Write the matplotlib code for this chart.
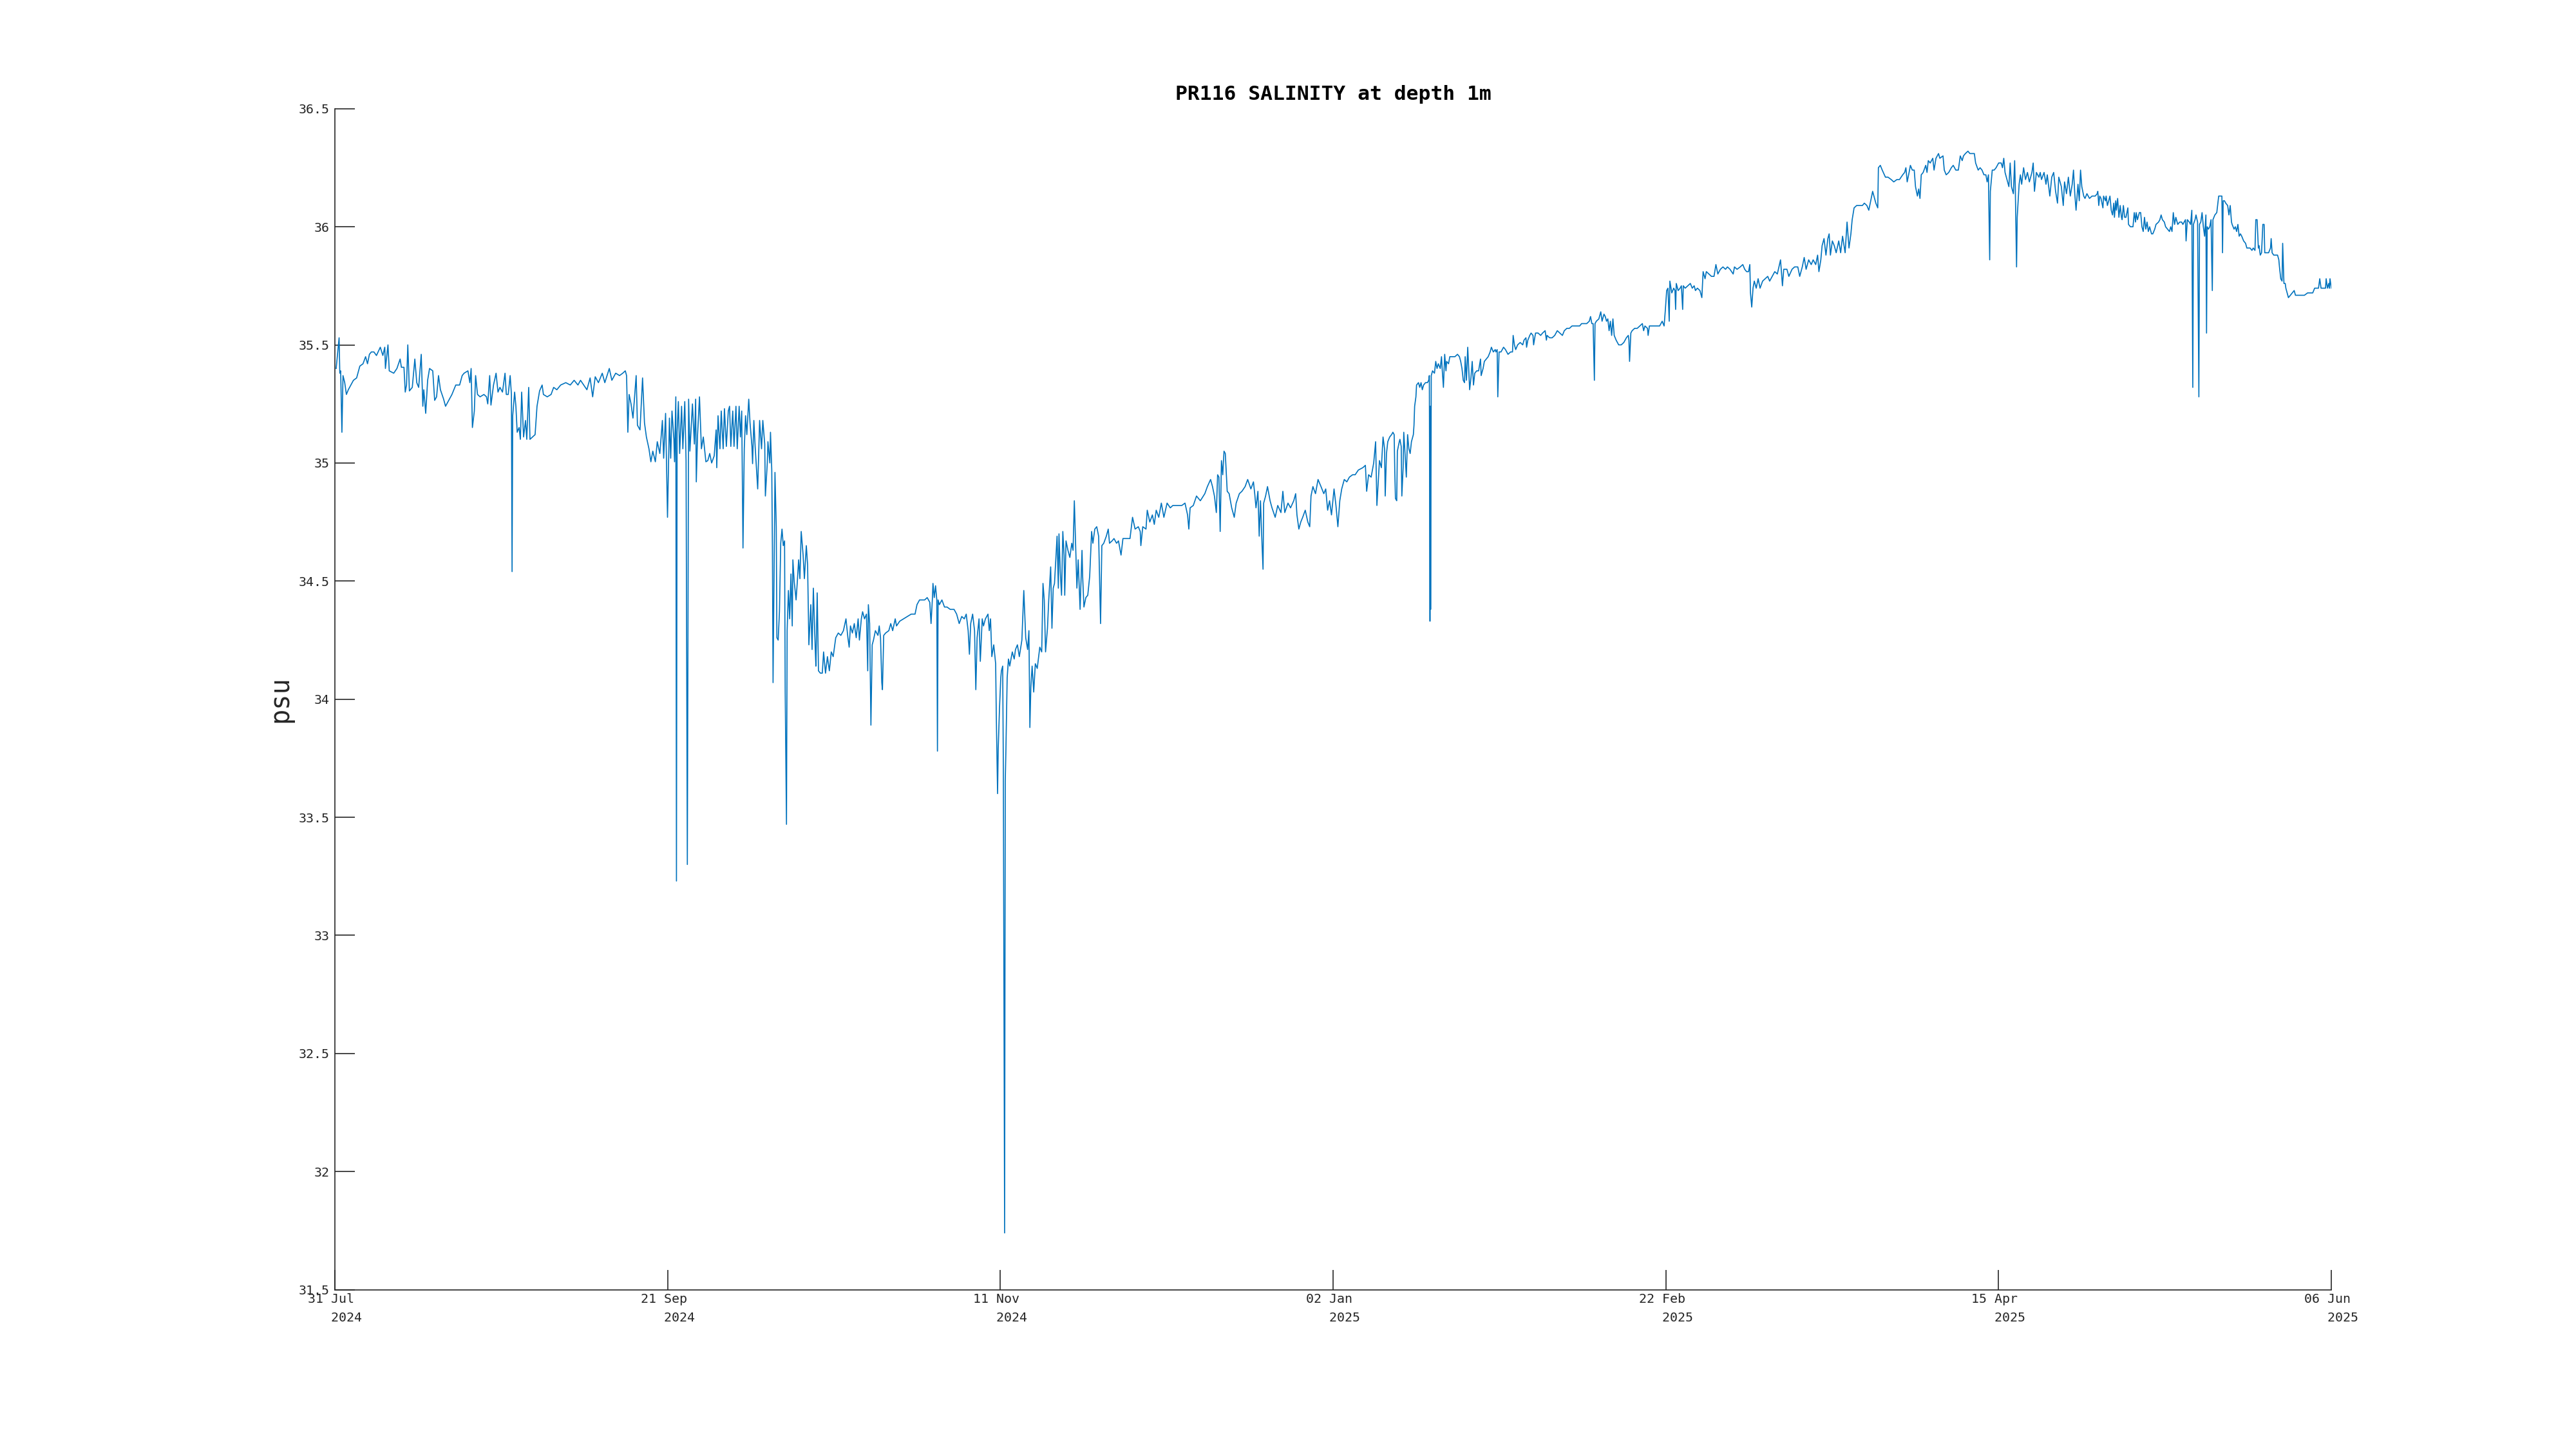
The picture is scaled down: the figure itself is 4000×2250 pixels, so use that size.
"""
PR116 salinity at 1 m depth, Jul 2024 - Jun 2025, MATLAB-style single line plot.

Values were read off the reference plot. x is "day of record" (31 Jul = 0),
y is salinity in psu. Saves out.png at 4000x2250.
"""
import numpy as np
import matplotlib

matplotlib.use("Agg")
import matplotlib.pyplot as plt

TITLE = "PR116 SALINITY at depth 1m"
Y_LABEL = "psu"
X_TICK_LABELS = ["31 Jul\n   2024", "21 Sep\n   2024", "11 Nov\n   2024",
                 "02 Jan\n   2025", "22 Feb\n   2025", "15 Apr\n   2025",
                 "06 Jun\n   2025"]
Y_TICKS = [31.5, 32, 32.5, 33, 33.5, 34, 34.5, 35, 35.5, 36, 36.5]
X_START, X_END = -0.2, 311.9  # day-of-record at the first / last date tick

# (day, psu) readings, one list per stretch of the record
AUG_SEP = [
    (0.0, 35.40), (0.46, 35.53), (0.57, 35.38), (0.7, 35.39), (0.9, 35.13), (1.07, 35.37),
    (1.34, 35.34), (1.6, 35.29), (1.9, 35.31), (2.3, 35.33), (2.7, 35.35), (3.2, 35.36),
    (3.7, 35.41), (4.2, 35.42), (4.6, 35.45), (4.9, 35.42), (5.2, 35.46), (5.5, 35.47),
    (5.9, 35.47), (6.3, 35.455), (6.9, 35.49), (7.3, 35.455), (7.6, 35.49), (7.7, 35.40),
    (8.1, 35.50), (8.3, 35.39), (9.0, 35.38), (9.5, 35.40), (10.0, 35.44), (10.2, 35.405),
    (10.6, 35.405), (10.8, 35.30), (11.0, 35.33), (11.2, 35.50), (11.45, 35.305), (11.9, 35.32),
    (12.3, 35.44), (12.6, 35.34), (12.9, 35.32), (13.3, 35.46), (13.55, 35.24), (13.7, 35.31),
    (14.0, 35.21), (14.3, 35.35), (14.6, 35.40), (15.1, 35.39), (15.4, 35.265), (15.7, 35.28),
    (16.0, 35.37), (16.3, 35.31), (16.8, 35.27), (17.1, 35.24), (17.6, 35.265), (18.1, 35.29),
    (18.7, 35.33), (19.3, 35.33), (19.7, 35.37), (20.0, 35.38), (20.6, 35.39), (20.9, 35.34),
    (21.1, 35.40), (21.3, 35.15), (21.6, 35.22), (21.8, 35.37), (22.1, 35.29), (22.5, 35.28),
    (23.1, 35.29), (23.5, 35.28), (23.7, 35.25), (24.0, 35.37), (24.2, 35.245), (24.6, 35.33),
    (25.0, 35.38), (25.3, 35.30), (25.6, 35.32), (26.0, 35.30), (26.4, 35.38), (26.6, 35.29),
    (26.9, 35.29), (27.2, 35.37), (27.4, 35.29), (27.5, 34.54), (27.6, 35.20), (27.9, 35.30),
    (28.1, 35.24), (28.3, 35.13), (28.6, 35.15), (28.8, 35.10), (29.0, 35.30), (29.3, 35.11),
    (29.6, 35.18), (29.8, 35.10), (30.1, 35.32), (30.3, 35.10), (30.7, 35.11), (31.1, 35.12),
    (31.4, 35.24), (31.8, 35.305), (32.2, 35.33), (32.4, 35.29), (33.0, 35.28), (33.6, 35.29),
    (34.0, 35.32), (34.5, 35.31), (35.1, 35.33), (35.9, 35.34), (36.6, 35.33), (37.2, 35.35),
    (37.8, 35.33), (38.2, 35.35), (38.7, 35.33), (39.2, 35.31), (39.7, 35.36), (40.1, 35.28),
    (40.5, 35.365), (41.0, 35.34), (41.6, 35.38), (42.0, 35.34), (42.7, 35.40), (43.1, 35.35),
    (43.7, 35.38), (44.3, 35.37), (44.8, 35.38), (45.2, 35.39), (45.4, 35.37), (45.6, 35.13),
    (45.8, 35.29), (46.1, 35.25), (46.4, 35.19), (46.6, 35.26), (46.9, 35.37), (47.1, 35.16),
    (47.5, 35.14), (47.9, 35.36), (48.2, 35.17), (48.5, 35.11), (48.9, 35.06), (49.2, 35.005),
    (49.5, 35.05), (49.9, 35.005), (50.2, 35.09), (50.6, 35.04), (51.0, 35.18), (51.2, 35.02),
    (51.5, 35.21), (51.8, 34.77), (52.1, 35.19), (52.3, 35.02), (52.5, 35.22), (52.8, 35.10),
    (52.9, 35.005), (53.1, 35.28), (53.2, 33.23), (53.3, 35.13), (53.5, 35.26), (53.7, 35.04),
    (54.0, 35.24), (54.2, 35.06), (54.5, 35.26), (54.7, 35.01), (54.9, 33.30), (55.1, 35.27),
    (55.3, 35.05), (55.7, 35.25), (56.0, 35.08), (56.2, 35.27), (56.3, 34.92), (56.5, 35.12),
    (56.8, 35.28), (57.1, 35.06), (57.4, 35.11), (57.8, 35.005),
]

SEP_NOV = [
    (58.1, 35.01), (58.4, 35.04), (58.7, 35.00), (59.1, 35.03), (59.4, 35.14), (59.5, 34.98),
    (59.7, 35.20), (60.0, 35.06), (60.2, 35.22), (60.5, 35.06), (60.7, 35.23), (61.0, 35.07),
    (61.3, 35.22), (61.5, 35.24), (61.7, 35.07), (62.0, 35.22), (62.2, 35.07), (62.5, 35.24),
    (62.7, 35.06), (63.0, 35.24), (63.2, 35.11), (63.4, 35.22), (63.6, 34.64), (63.8, 35.06),
    (64.0, 35.20), (64.2, 35.12), (64.5, 35.27), (64.7, 35.17), (65.0, 35.07), (65.1, 34.997),
    (65.3, 35.18), (65.5, 35.07), (65.7, 34.98), (65.9, 34.89), (66.2, 35.18), (66.5, 35.06),
    (66.7, 35.18), (67.0, 35.08), (67.1, 34.86), (67.4, 35.00), (67.5, 35.09), (67.8, 35.00),
    (67.9, 35.13), (68.1, 34.97), (68.2, 34.64), (68.3, 34.07), (68.4, 34.37), (68.6, 34.96),
    (68.8, 34.73), (68.9, 34.26), (69.1, 34.25), (69.3, 34.37), (69.5, 34.66), (69.7, 34.72),
    (69.9, 34.65), (70.1, 34.67), (70.2, 34.03), (70.4, 33.47), (70.5, 34.29), (70.7, 34.46),
    (70.9, 34.34), (71.1, 34.53), (71.3, 34.31), (71.4, 34.59), (71.6, 34.50), (71.9, 34.42),
    (72.1, 34.50), (72.3, 34.59), (72.5, 34.51), (72.7, 34.71), (73.0, 34.61), (73.2, 34.51),
    (73.5, 34.65), (73.7, 34.57), (73.9, 34.23), (74.2, 34.40), (74.4, 34.21), (74.6, 34.47),
    (74.9, 34.21), (75.0, 34.14), (75.2, 34.45), (75.4, 34.12), (75.7, 34.11), (76.0, 34.11),
    (76.2, 34.20), (76.5, 34.11), (76.8, 34.18), (77.1, 34.12), (77.4, 34.20), (77.7, 34.18),
    (78.1, 34.26), (78.5, 34.28), (78.9, 34.27), (79.3, 34.29), (79.7, 34.34), (80.0, 34.26),
    (80.2, 34.22), (80.4, 34.31), (80.7, 34.28), (81.0, 34.32), (81.3, 34.26), (81.6, 34.34),
    (81.8, 34.25), (82.1, 34.34), (82.3, 34.37), (82.6, 34.34), (82.9, 34.36), (83.1, 34.12),
    (83.2, 34.40), (83.4, 34.32), (83.6, 33.89), (83.8, 34.23), (84.0, 34.25), (84.3, 34.29),
    (84.7, 34.27), (84.9, 34.31), (85.1, 34.26), (85.3, 34.07), (85.4, 34.04), (85.6, 34.27),
    (85.9, 34.28), (86.4, 34.29), (86.7, 34.32), (87.0, 34.29), (87.4, 34.34), (87.6, 34.31),
    (88.1, 34.33), (88.7, 34.34), (89.3, 34.35), (89.9, 34.36), (90.5, 34.36), (90.8, 34.40),
    (91.2, 34.42), (91.6, 34.42), (92.0, 34.42), (92.4, 34.43), (92.8, 34.41), (93.0, 34.32),
    (93.2, 34.42), (93.3, 34.49), (93.5, 34.43), (93.7, 34.48), (93.9, 34.42), (94.0, 33.78),
    (94.1, 34.42), (94.3, 34.40), (94.7, 34.42), (95.1, 34.39), (95.5, 34.39), (96.0, 34.38),
    (96.6, 34.38), (97.0, 34.36), (97.4, 34.32), (97.8, 34.35), (98.2, 34.34), (98.5, 34.36),
    (98.8, 34.29), (99.0, 34.19), (99.2, 34.32), (99.5, 34.36), (99.8, 34.29), (100.0, 34.04),
    (100.2, 34.26), (100.5, 34.34), (100.7, 34.16), (101.0, 34.34), (101.2, 34.31), (101.5, 34.34),
    (101.9, 34.36), (102.1, 34.29), (102.3, 34.34), (102.5, 34.18), (102.8, 34.23), (103.1, 34.15),
    (103.2, 33.93), (103.4, 33.60), (103.5, 33.79), (103.7, 33.96), (103.9, 34.09), (104.0, 34.12),
    (104.2, 34.14), (104.3, 33.71), (104.5, 31.74), (104.6, 33.65), (104.7, 33.78), (104.9, 34.09),
    (105.1, 34.17), (105.3, 34.14), (105.7, 34.20), (106.0, 34.17), (106.2, 34.21), (106.5, 34.23),
    (106.8, 34.18), (107.2, 34.25), (107.5, 34.46), (107.8, 34.26), (108.1, 34.21), (108.3, 34.29),
    (108.45, 33.88),
]

NOV_JAN = [
    (108.6, 34.05), (108.8, 34.14), (109.05, 34.03), (109.3, 34.15), (109.6, 34.13), (110.0, 34.22),
    (110.3, 34.20), (110.5, 34.49), (110.7, 34.42), (110.9, 34.20), (111.2, 34.30), (111.4, 34.42),
    (111.7, 34.56), (111.9, 34.30), (112.1, 34.47), (112.3, 34.49), (112.5, 34.59), (112.7, 34.69),
    (112.9, 34.47), (113.0, 34.70), (113.2, 34.54), (113.4, 34.44), (113.6, 34.71), (113.8, 34.61),
    (113.9, 34.44), (114.1, 34.67), (114.4, 34.63), (114.7, 34.60), (115.0, 34.66), (115.2, 34.63),
    (115.4, 34.84), (115.6, 34.66), (115.8, 34.47), (116.0, 34.59), (116.3, 34.38), (116.6, 34.63),
    (116.7, 34.52), (116.9, 34.39), (117.2, 34.43), (117.5, 34.44), (117.8, 34.52), (118.1, 34.71),
    (118.3, 34.66), (118.6, 34.72), (118.9, 34.73), (119.2, 34.69), (119.5, 34.32), (119.7, 34.65),
    (120.0, 34.66), (120.4, 34.69), (120.7, 34.72), (120.9, 34.66), (121.3, 34.67), (121.6, 34.68),
    (122.0, 34.66), (122.3, 34.67), (122.7, 34.61), (123.0, 34.68), (123.4, 34.68), (124.1, 34.68),
    (124.5, 34.77), (124.9, 34.72), (125.4, 34.73), (125.7, 34.71), (125.8, 34.65), (126.1, 34.73),
    (126.6, 34.72), (126.8, 34.80), (127.2, 34.75), (127.6, 34.78), (127.9, 34.74), (128.2, 34.80),
    (128.6, 34.77), (129.0, 34.83), (129.4, 34.77), (129.9, 34.83), (130.4, 34.81), (130.8, 34.82),
    (131.5, 34.82), (132.2, 34.82), (132.7, 34.83), (133.1, 34.78), (133.3, 34.72), (133.5, 34.81),
    (134.0, 34.82), (134.5, 34.86), (135.1, 34.84), (135.8, 34.87), (136.2, 34.90), (136.7, 34.93),
    (137.0, 34.90), (137.3, 34.86), (137.6, 34.79), (137.8, 34.95), (138.0, 34.94), (138.2, 34.71),
    (138.4, 35.01), (138.6, 34.95), (138.8, 35.05), (139.0, 35.04), (139.3, 34.88), (139.6, 34.87),
    (140.0, 34.81), (140.4, 34.77), (140.7, 34.83), (141.2, 34.87), (141.6, 34.88), (142.1, 34.90),
    (142.5, 34.93), (143.0, 34.89), (143.4, 34.92), (143.6, 34.87), (143.8, 34.81), (144.1, 34.88),
    (144.3, 34.69), (144.5, 34.84), (144.75, 34.65), (144.9, 34.55), (145.0, 34.83), (145.3, 34.86),
    (145.6, 34.90), (146.0, 34.84), (146.3, 34.81), (146.8, 34.77), (147.2, 34.82), (147.7, 34.79),
    (148.0, 34.88), (148.3, 34.79), (148.8, 34.83), (149.2, 34.81), (149.7, 34.84), (150.0, 34.87),
    (150.2, 34.78), (150.5, 34.72), (150.8, 34.75), (151.1, 34.77), (151.5, 34.80), (151.9, 34.75),
    (152.2, 34.73), (152.4, 34.86), (152.7, 34.90), (153.1, 34.87), (153.5, 34.93), (153.96, 34.90),
    (154.4, 34.87), (154.7, 34.89), (155.0, 34.80), (155.3, 34.84), (155.6, 34.78), (156.0, 34.89),
    (156.3, 34.82), (156.6, 34.73), (156.9, 34.84), (157.2, 34.89), (157.6, 34.93), (158.0, 34.92),
    (158.4, 34.94), (158.9, 34.95), (159.3, 34.95), (159.8, 34.97), (160.5, 34.98), (160.9, 34.99),
    (161.1, 34.88), (161.4, 34.95), (161.8, 34.94), (162.2, 35.00), (162.5, 35.09), (162.7, 34.82),
    (163.1, 35.01), (163.4, 34.98),
]

JAN_FEB = [
    (163.66, 35.11), (163.9, 35.06), (164.0, 34.86), (164.2, 35.04), (164.4, 35.09), (164.7, 35.11),
    (165.0, 35.12), (165.2, 35.13), (165.4, 35.12), (165.5, 34.96), (165.6, 34.85), (165.8, 34.84),
    (165.9, 35.05), (166.2, 35.09), (166.3, 35.10), (166.5, 35.07), (166.6, 34.86), (166.8, 34.98),
    (166.9, 35.13), (167.1, 35.04), (167.3, 34.94), (167.5, 35.12), (167.7, 35.06), (167.9, 35.04),
    (168.1, 35.09), (168.4, 35.12), (168.5, 35.16), (168.6, 35.24), (168.8, 35.28), (168.9, 35.33),
    (169.2, 35.34), (169.4, 35.32), (169.6, 35.34), (169.8, 35.31), (170.0, 35.33), (170.3, 35.34),
    (170.6, 35.34), (170.8, 35.35), (170.9, 35.37), (171.0, 34.33), (171.05, 35.24), (171.1, 34.38),
    (171.2, 35.37), (171.4, 35.39), (171.7, 35.38), (171.9, 35.43), (172.1, 35.40), (172.3, 35.42),
    (172.6, 35.40), (172.8, 35.45), (172.9, 35.40), (173.1, 35.32), (173.3, 35.46), (173.5, 35.39),
    (173.6, 35.43), (173.9, 35.42), (174.1, 35.45), (174.5, 35.45), (174.9, 35.45), (175.3, 35.46),
    (175.6, 35.45), (175.8, 35.43), (176.0, 35.40), (176.2, 35.35), (176.4, 35.34), (176.5, 35.45),
    (176.7, 35.35), (176.9, 35.49), (177.0, 35.43), (177.2, 35.31), (177.4, 35.36), (177.6, 35.43),
    (177.8, 35.33), (178.0, 35.38), (178.3, 35.39), (178.6, 35.39), (178.9, 35.44), (179.0, 35.37),
    (179.3, 35.40), (179.5, 35.43), (179.8, 35.44), (180.1, 35.45), (180.4, 35.47), (180.6, 35.49),
    (180.9, 35.47), (181.2, 35.48), (181.3, 35.47), (181.5, 35.48), (181.6, 35.28), (181.8, 35.47),
    (182.1, 35.47), (182.5, 35.49), (182.8, 35.48), (183.2, 35.46), (183.6, 35.47), (183.9, 35.47),
    (184.0, 35.54), (184.2, 35.50), (184.4, 35.48), (184.7, 35.50), (185.1, 35.51), (185.5, 35.50),
    (185.7, 35.52), (186.0, 35.53), (186.1, 35.49), (186.3, 35.52), (186.6, 35.54), (186.8, 35.55),
    (187.1, 35.54), (187.2, 35.50), (187.5, 35.55), (187.9, 35.55), (188.3, 35.54), (188.6, 35.55),
    (189.0, 35.56), (189.2, 35.52), (189.3, 35.54), (189.7, 35.53), (190.1, 35.53), (190.5, 35.54),
    (190.9, 35.56), (191.3, 35.55), (191.7, 35.54), (192.0, 35.56), (192.4, 35.57), (192.8, 35.57),
    (193.2, 35.58), (193.6, 35.58), (194.0, 35.58), (194.4, 35.58), (194.7, 35.59), (195.1, 35.59),
    (195.5, 35.59), (195.9, 35.60), (196.1, 35.62), (196.3, 35.59), (196.5, 35.59), (196.7, 35.35),
    (196.8, 35.59), (197.0, 35.60), (197.4, 35.61), (197.6, 35.63), (197.7, 35.64), (197.9, 35.60),
    (198.2, 35.63), (198.4, 35.62), (198.6, 35.60), (198.8, 35.61), (199.0, 35.56), (199.2, 35.60),
    (199.4, 35.54), (199.6, 35.61), (199.8, 35.54), (200.1, 35.52), (200.5, 35.50), (200.9, 35.50),
    (201.3, 35.51), (201.7, 35.53), (202.0, 35.54), (202.1, 35.52), (202.2, 35.43), (202.4, 35.55),
    (202.6, 35.56), (203.0, 35.57), (203.4, 35.57), (203.8, 35.58), (204.2, 35.59), (204.4, 35.56),
    (204.6, 35.58), (205.0, 35.57), (205.1, 35.54), (205.3, 35.58), (205.7, 35.58), (206.3, 35.58),
    (206.9, 35.58), (207.3, 35.60), (207.6, 35.58), (207.8, 35.65), (208.0, 35.73), (208.2, 35.74),
    (208.4, 35.60), (208.5, 35.77), (208.8, 35.72), (209.1, 35.74), (209.3, 35.73), (209.4, 35.65),
    (209.5, 35.76), (209.8, 35.73), (210.1, 35.74), (210.3, 35.75), (210.5, 35.65), (210.6, 35.75),
    (210.9, 35.74), (211.3, 35.75), (211.7, 35.76), (212.0, 35.74), (212.3, 35.75), (212.5, 35.73),
    (212.8, 35.74), (213.2, 35.73), (213.5, 35.70), (213.7, 35.81), (214.0, 35.78), (214.2, 35.81),
]

FEB_APR = [
    (214.6, 35.80), (215.0, 35.79), (215.4, 35.79), (215.7, 35.84), (216.0, 35.80), (216.4, 35.82),
    (216.8, 35.83), (217.2, 35.82), (217.5, 35.83), (217.9, 35.82), (218.4, 35.80), (218.6, 35.83),
    (219.0, 35.82), (219.5, 35.83), (219.9, 35.84), (220.2, 35.82), (220.5, 35.81), (220.8, 35.81),
    (221.0, 35.84), (221.1, 35.72), (221.3, 35.66), (221.5, 35.74), (221.7, 35.77), (222.0, 35.74),
    (222.3, 35.78), (222.6, 35.74), (223.0, 35.77), (223.4, 35.78), (223.8, 35.79), (224.1, 35.77),
    (224.5, 35.79), (224.9, 35.81), (225.3, 35.80), (225.8, 35.86), (226.1, 35.75), (226.3, 35.82),
    (226.8, 35.82), (227.1, 35.79), (227.6, 35.82), (228.0, 35.83), (228.5, 35.83), (228.8, 35.79),
    (229.2, 35.83), (229.5, 35.87), (229.8, 35.82), (230.2, 35.86), (230.6, 35.84), (230.9, 35.86),
    (231.3, 35.84), (231.6, 35.88), (231.8, 35.81), (232.1, 35.86), (232.3, 35.92), (232.6, 35.95),
    (232.9, 35.88), (233.2, 35.95), (233.4, 35.97), (233.6, 35.88), (233.9, 35.94), (234.2, 35.92),
    (234.5, 35.89), (234.9, 35.94), (235.2, 35.89), (235.5, 35.96), (235.9, 35.89), (236.2, 36.02),
    (236.5, 35.91), (236.8, 35.97), (237.0, 36.03), (237.3, 36.08), (237.7, 36.09), (238.1, 36.09),
    (238.6, 36.09), (238.9, 36.10), (239.3, 36.09), (239.6, 36.07), (239.9, 36.11), (240.2, 36.15),
    (240.4, 36.13), (240.7, 36.10), (241.0, 36.08), (241.1, 36.25), (241.4, 36.26), (241.7, 36.24),
    (242.2, 36.21), (242.6, 36.21), (243.1, 36.20), (243.5, 36.19), (244.0, 36.20), (244.4, 36.20),
    (244.9, 36.22), (245.2, 36.23), (245.4, 36.25), (245.6, 36.19), (245.9, 36.23), (246.1, 36.26),
    (246.4, 36.24), (246.7, 36.24), (246.9, 36.17), (247.2, 36.13), (247.4, 36.16), (247.6, 36.12),
    (247.8, 36.22), (248.1, 36.23), (248.5, 36.26), (248.7, 36.23), (248.9, 36.28), (249.2, 36.27),
    (249.6, 36.29), (249.8, 36.24), (250.1, 36.29), (250.5, 36.31), (250.7, 36.29), (251.2, 36.30),
    (251.4, 36.24), (251.7, 36.22), (252.1, 36.23), (252.5, 36.25), (252.8, 36.26), (253.2, 36.24),
    (253.6, 36.24), (253.9, 36.30), (254.2, 36.28), (254.4, 36.30), (254.7, 36.31), (255.1, 36.32),
    (255.4, 36.31), (255.8, 36.31), (256.1, 36.31), (256.3, 36.27), (256.7, 36.24), (257.0, 36.25),
    (257.3, 36.24), (257.6, 36.22), (257.9, 36.22), (258.1, 36.19), (258.3, 36.22), (258.5, 35.86),
    (258.6, 36.15), (258.9, 36.24), (259.2, 36.24), (259.5, 36.25), (259.9, 36.27), (260.3, 36.27),
    (260.5, 36.25), (260.7, 36.29), (260.9, 36.23), (261.2, 36.20), (261.5, 36.17), (261.7, 36.27),
    (261.9, 36.17), (262.2, 36.14), (262.4, 36.28), (262.5, 36.17), (262.7, 35.83), (262.8, 36.04),
    (263.1, 36.18), (263.3, 36.22), (263.5, 36.18), (263.8, 36.25), (264.1, 36.20), (264.4, 36.23),
    (264.7, 36.19), (265.1, 36.23), (265.3, 36.27), (265.5, 36.15), (265.8, 36.23), (266.2, 36.21),
    (266.4, 36.23), (266.6, 36.20), (267.0, 36.23), (267.3, 36.18), (267.5, 36.22), (267.9, 36.13),
    (268.2, 36.21), (268.5, 36.23), (268.8, 36.15), (269.1, 36.10), (269.3, 36.21), (269.7, 36.17),
    (270.0, 36.09), (270.2, 36.19), (270.5, 36.14), (270.8, 36.21), (271.1, 36.13), (271.4, 36.18),
    (271.6, 36.24), (271.8, 36.14), (272.0, 36.07), (272.3, 36.18), (272.5, 36.11), (272.7, 36.24),
    (272.9, 36.17), (273.2, 36.13), (273.4, 36.12), (273.7, 36.14), (274.1, 36.12), (274.5, 36.13),
]

APR_JUN = [
    (274.65, 36.13), (275.0, 36.13), (275.3, 36.14), (275.4, 36.15), (275.55, 36.09), (275.7, 36.13),
    (275.9, 36.12), (276.2, 36.08), (276.3, 36.13), (276.6, 36.11), (276.7, 36.13), (276.9, 36.09),
    (277.1, 36.11), (277.3, 36.13), (277.5, 36.07), (277.7, 36.05), (277.9, 36.10), (278.0, 36.04),
    (278.2, 36.11), (278.3, 36.07), (278.5, 36.12), (278.7, 36.04), (278.9, 36.09), (279.1, 36.04),
    (279.2, 36.03), (279.4, 36.09), (279.6, 36.04), (279.8, 36.04), (280.1, 36.08), (280.2, 36.01),
    (280.5, 36.00), (280.9, 36.00), (281.1, 36.06), (281.3, 36.02), (281.4, 36.06), (281.6, 36.03),
    (281.9, 36.06), (282.1, 36.06), (282.3, 36.00), (282.5, 35.98), (282.7, 36.04), (282.9, 35.99),
    (283.1, 36.02), (283.3, 35.98), (283.5, 36.00), (283.8, 35.97), (284.0, 35.97), (284.3, 35.99),
    (284.5, 36.01), (284.9, 36.02), (285.1, 36.03), (285.3, 36.05), (285.5, 36.03), (285.8, 36.02),
    (286.0, 36.00), (286.3, 35.99), (286.6, 35.98), (286.8, 36.00), (287.0, 35.98), (287.2, 36.06),
    (287.4, 36.01), (287.6, 36.04), (287.9, 36.01), (288.2, 36.02), (288.5, 36.02), (288.7, 36.01),
    (289.1, 36.03), (289.2, 35.94), (289.4, 36.03), (289.7, 36.02), (289.9, 36.01), (290.1, 36.07),
    (290.25, 35.32), (290.35, 36.01), (290.6, 36.03), (290.75, 36.05), (291.0, 36.02), (291.2, 35.28),
    (291.3, 36.01), (291.5, 36.02), (291.7, 36.06), (291.9, 36.00), (292.1, 35.96), (292.3, 36.05),
    (292.4, 35.55), (292.5, 36.00), (292.7, 35.99), (292.9, 36.00), (293.1, 36.03), (293.3, 35.73),
    (293.4, 36.03), (293.7, 36.05), (294.0, 36.06), (294.3, 36.13), (294.5, 36.13), (294.8, 36.13),
    (294.9, 35.89), (295.0, 36.11), (295.2, 36.11), (295.4, 36.10), (295.7, 36.09), (295.9, 36.05),
    (296.1, 36.09), (296.3, 36.02), (296.4, 36.01), (296.7, 35.99), (296.9, 36.00), (297.1, 35.98),
    (297.3, 36.01), (297.5, 35.96), (297.7, 35.97), (297.9, 35.96), (298.2, 35.94), (298.5, 35.93),
    (298.7, 35.91), (299.0, 35.91), (299.2, 35.91), (299.5, 35.90), (299.7, 35.91), (299.97, 35.90),
    (300.1, 36.03), (300.3, 36.03), (300.5, 35.91), (300.6, 35.92), (300.8, 35.88), (301.0, 35.89),
    (301.2, 36.01), (301.4, 36.01), (301.5, 35.89), (301.8, 35.89), (302.1, 35.89), (302.4, 35.91),
    (302.5, 35.95), (302.65, 35.89), (302.9, 35.88), (303.3, 35.88), (303.5, 35.88), (303.7, 35.86),
    (303.8, 35.83), (304.0, 35.78), (304.2, 35.77), (304.3, 35.93), (304.5, 35.76), (304.7, 35.76),
    (304.8, 35.74), (305.0, 35.72), (305.2, 35.70), (305.5, 35.71), (305.8, 35.72), (306.1, 35.73),
    (306.3, 35.71), (306.7, 35.71), (307.2, 35.71), (307.7, 35.71), (308.2, 35.72), (308.7, 35.72),
    (309.0, 35.72), (309.3, 35.74), (309.7, 35.74), (309.9, 35.74), (310.1, 35.78), (310.3, 35.74),
    (310.5, 35.74), (310.8, 35.74), (311.0, 35.74), (311.1, 35.78), (311.3, 35.74), (311.5, 35.76),
    (311.6, 35.74), (311.7, 35.78), (311.9, 35.74),
]

LINE_COLOR = "#0072BD"
AXIS_COLOR = "#262626"


def main():
    plt.rcParams["font.family"] = "DejaVu Sans Mono"

    pts = np.array(AUG_SEP + SEP_NOV + NOV_JAN + JAN_FEB + FEB_APR + APR_JUN)
    days, psu = pts[:, 0], pts[:, 1]

    fig = plt.figure(figsize=(20, 11.25), dpi=200)
    ax = fig.add_axes([0.13, 0.11, 0.775, 0.815])
    ax.plot(days, psu, color=LINE_COLOR, lw=0.6)

    ax.set_xlim(X_START, X_END)
    ax.set_ylim(Y_TICKS[0], Y_TICKS[-1])
    ax.set_xticks(np.linspace(X_START, X_END, len(X_TICK_LABELS)))
    ax.set_xticklabels(X_TICK_LABELS, linespacing=1.65)
    for lbl in ax.get_xticklabels():
        lbl.set_multialignment("left")
    ax.set_yticks(Y_TICKS)
    ax.set_yticklabels([f"{v:g}" for v in Y_TICKS])

    # MATLAB look: box off, inward ticks, dark grey axes
    for side in ("top", "right"):
        ax.spines[side].set_visible(False)
    for side in ("left", "bottom"):
        ax.spines[side].set_color(AXIS_COLOR)
        ax.spines[side].set_linewidth(0.6)
    ax.tick_params(direction="in", length=11, width=0.6, color=AXIS_COLOR,
                   labelcolor=AXIS_COLOR, labelsize=7.2)
    ax.tick_params(axis="x", pad=2)
    ax.tick_params(axis="y", pad=3)

    ax.set_title(TITLE, fontsize=11.3, fontweight="bold", color="black", pad=5)
    ax.set_ylabel(Y_LABEL, fontsize=14.5, color=AXIS_COLOR)
    ax.yaxis.set_label_coords(-0.021, 0.5)

    fig.savefig("out.png", dpi=200, facecolor="white")
    plt.close(fig)


if __name__ == "__main__":
    main()
